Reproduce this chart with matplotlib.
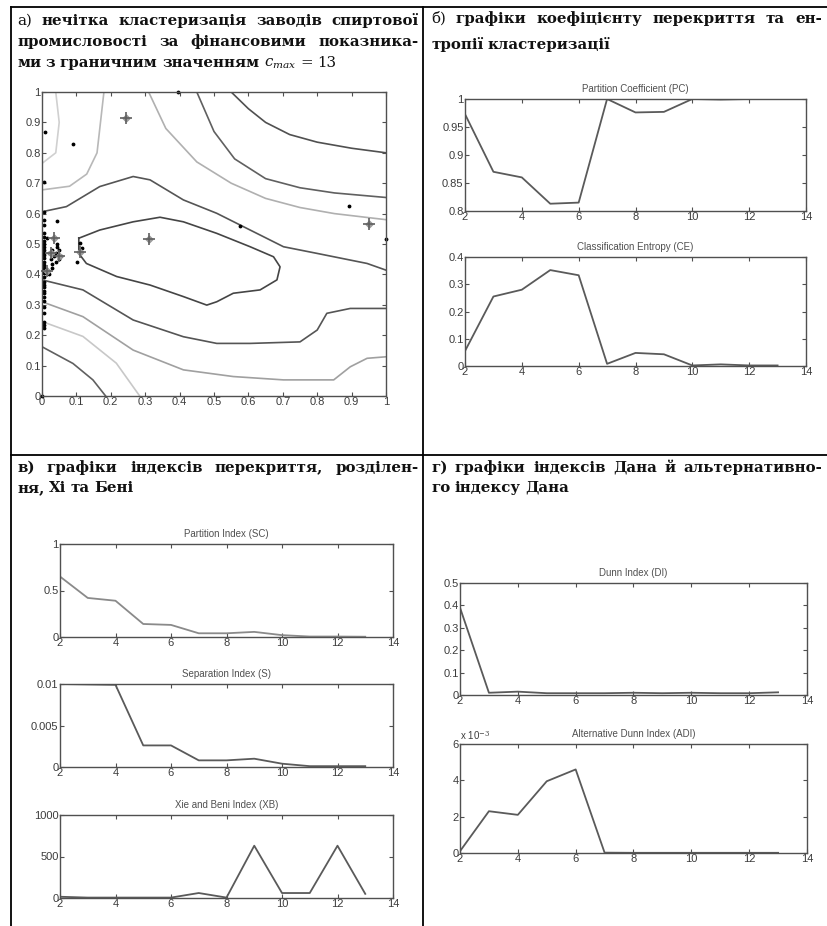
import matplotlib
matplotlib.use("Agg")
import matplotlib.pyplot as plt
from matplotlib import font_manager
from matplotlib.lines import Line2D

plt.rcParams["mathtext.fontset"] = "dejavuserif"

# ---------------- data ----------------
clusters = [2, 3, 4, 5, 6, 7, 8, 9, 10, 11, 12, 13]
pc = [0.973, 0.870, 0.860, 0.813, 0.815, 1.0, 0.976, 0.977, 1.0, 0.999, 1.0, 1.0]
ce = [0.055, 0.255, 0.280, 0.352, 0.333, 0.008, 0.048, 0.043, 0.002, 0.006, 0.002, 0.002]
sc = [0.65, 0.42, 0.39, 0.14, 0.13, 0.04, 0.04, 0.055, 0.02, 0.005, 0.005, 0.003]
sep = [0.0100, 0.00995, 0.0099, 0.0026, 0.0026, 0.0008, 0.0008, 0.001, 0.0004, 0.0001, 0.0001, 0.0001]
xb = [15, 5, 5, 5, 5, 60, 5, 630, 60, 60, 630, 50]
di = [0.39, 0.010, 0.015, 0.008, 0.008, 0.008, 0.010, 0.008, 0.010, 0.008, 0.008, 0.012]
adi = [0.1, 2.3, 2.1, 3.95, 4.6, 0.02, 0.01, 0.01, 0.01, 0.01, 0.01, 0.01]  # x 10^-3

# panel a: enterprises (normalised financial indicators)
pts_x = [0.005] * 29 + [0.02, 0.025, 0.03, 0.035, 0.04, 0.045, 0.05, 0.055, 0.04, 0.03,
                        0.045, 0.015, 0.02, 0.03, 0.05, 0.045,
                        0.008, 0.005, 0.09, 0.396, 0.576, 0.893, 1.0, 0.103, 0.11, 0.115, 0.0]
pts_y = [0.606, 0.579, 0.562, 0.535, 0.522, 0.511, 0.50, 0.489, 0.48, 0.471, 0.463,
         0.453, 0.442, 0.431, 0.42, 0.406, 0.393, 0.376, 0.365, 0.357, 0.346, 0.338,
         0.327, 0.314, 0.294, 0.272, 0.245, 0.234, 0.223] + \
        [0.47, 0.45, 0.48, 0.46, 0.47, 0.49, 0.45, 0.46, 0.44, 0.435,
         0.50, 0.52, 0.40, 0.42, 0.48, 0.577,
         0.87, 0.705, 0.829, 1.0, 0.56, 0.626, 0.515, 0.44, 0.504, 0.486, 0.0]
cent_x = [0.245, 0.31, 0.95, 0.035, 0.11, 0.05, 0.015, 0.025]
cent_y = [0.915, 0.515, 0.565, 0.52, 0.475, 0.46, 0.41, 0.47]

# contour lines traced from the membership surface: (x list, y list, grey level)
contours = [
    ([0.55, 0.60, 0.65, 0.72, 0.80, 0.90, 1.0],
     [1.0, 0.945, 0.90, 0.86, 0.835, 0.815, 0.80], "#505050"),
    ([0.45, 0.50, 0.56, 0.65, 0.75, 0.85, 1.0],
     [1.0, 0.87, 0.78, 0.715, 0.685, 0.668, 0.653], "#606060"),
    ([0.31, 0.36, 0.45, 0.55, 0.65, 0.75, 0.85, 1.0],
     [1.0, 0.88, 0.77, 0.70, 0.65, 0.62, 0.60, 0.58], "#b0b0b0"),
    ([0.0, 0.071, 0.168, 0.265, 0.314, 0.411, 0.508, 0.605, 0.702, 0.80, 0.945, 1.0],
     [0.606, 0.623, 0.689, 0.722, 0.711, 0.645, 0.601, 0.546, 0.491, 0.469, 0.436, 0.414], "#555555"),
    ([0.107, 0.168, 0.265, 0.343, 0.411, 0.508, 0.605, 0.673, 0.692, 0.683, 0.634, 0.556,
      0.508, 0.479, 0.411, 0.314, 0.217, 0.129, 0.107, 0.107],
     [0.519, 0.546, 0.573, 0.588, 0.573, 0.535, 0.491, 0.458, 0.425, 0.382, 0.349, 0.338,
      0.310, 0.299, 0.327, 0.365, 0.393, 0.436, 0.469, 0.519], "#454545"),
    ([0.0, 0.119, 0.265, 0.411, 0.508, 0.605, 0.75, 0.80, 0.828, 0.896, 1.0],
     [0.382, 0.349, 0.25, 0.195, 0.173, 0.173, 0.178, 0.217, 0.272, 0.288, 0.288], "#555555"),
    ([0.0, 0.119, 0.265, 0.411, 0.556, 0.702, 0.848, 0.896, 0.945, 1.0],
     [0.31, 0.261, 0.151, 0.086, 0.064, 0.053, 0.053, 0.096, 0.124, 0.129], "#a0a0a0"),
    ([0.0, 0.119, 0.216, 0.284], [0.245, 0.196, 0.108, 0.0], "#c8c8c8"),
    ([0.0, 0.09, 0.148, 0.185], [0.162, 0.107, 0.053, 0.0], "#606060"),
    ([0.0, 0.08, 0.13, 0.16, 0.17, 0.18], [0.678, 0.69, 0.73, 0.80, 0.90, 1.0], "#b8b8b8"),
    ([0.0, 0.04, 0.05, 0.04], [0.765, 0.80, 0.90, 1.0], "#d0d0d0"),
]

# ---------------- helpers ----------------
W, H = 827, 926


def pick(*names):
    for n in names:
        try:
            font_manager.findfont(n, fallback_to_default=False)
            return n
        except Exception:
            pass
    return "DejaVu Sans"


SANS = pick("Liberation Sans Narrow", "Liberation Sans")
SERIF = pick("DejaVu Serif Condensed", "DejaVu Serif")
GREY = "#3c3c3c"


def box(x0, y0, x1, y1):
    # pixel box (top-left origin) -> figure fraction rect
    return [x0 / W, 1 - y1 / H, (x1 - x0) / W, (y1 - y0) / H]


def style(ax, xlim, ylim, xt, yt, xl, yl, title=None):
    ax.set_xlim(*xlim); ax.set_ylim(*ylim)
    ax.set_xticks(xt); ax.set_yticks(yt)
    ax.set_xticklabels(xl, family=SANS, fontsize=8, color=GREY)
    ax.set_yticklabels(yl, family=SANS, fontsize=8, color=GREY)
    ax.tick_params(direction="in", top=True, right=True, length=3, width=0.8,
                   color="#505050", pad=1)
    for s in ax.spines.values():
        s.set_color("#505050"); s.set_linewidth(1.0)
    if title:
        ax.set_title(title, family=SANS, fontsize=7, color="#505050", pad=5)


fig = plt.figure(figsize=(W / 100, H / 100), dpi=100)
fig.patch.set_facecolor("white")

# table grid
for (x0, y0, x1, y1) in [(11, 7, 827, 7), (11, 455, 827, 455), (11, 7, 11, 926), (423, 7, 423, 926)]:
    fig.add_artist(Line2D([x0 / W, x1 / W], [1 - y0 / H, 1 - y1 / H], color="black", lw=1.3))

# ---------------- panel a ----------------
ax = fig.add_axes(box(42, 92, 386, 396))
for cx, cy, col in contours:
    ax.plot(cx, cy, color=col, lw=1.2)
ax.plot(pts_x, pts_y, ".", color="black", ms=3.5, clip_on=False)
ax.plot(cent_x, cent_y, "D", color="#9a9a9a", ms=3.5, clip_on=False)
ax.plot(cent_x, cent_y, "+", color="#606060", ms=8, mew=1.2, clip_on=False)
ticks = [i / 10 for i in range(11)]
labs = ["0", "0.1", "0.2", "0.3", "0.4", "0.5", "0.6", "0.7", "0.8", "0.9", "1"]
style(ax, (0, 1), (0, 1), ticks, ticks, labs, labs)

# ---------------- panel b ----------------
xt = [2, 4, 6, 8, 10, 12, 14]
xl = [str(v) for v in xt]
line_kw = dict(color="#5a5a5a", lw=1.3)

ax = fig.add_axes(box(465, 99, 806, 211))
ax.plot(clusters, pc, **line_kw)
style(ax, (2, 14), (0.8, 1), xt, [0.8, 0.85, 0.9, 0.95, 1], xl,
      ["0.8", "0.85", "0.9", "0.95", "1"], "Partition Coefficient (PC)")

ax = fig.add_axes(box(465, 257, 806, 366))
ax.plot(clusters, ce, **line_kw)
style(ax, (2, 14), (0, 0.4), xt, [0, 0.1, 0.2, 0.3, 0.4], xl,
      ["0", "0.1", "0.2", "0.3", "0.4"], "Classification Entropy (CE)")

# ---------------- panel c ----------------
ax = fig.add_axes(box(60, 544, 393, 637))
ax.plot(clusters, sc, color="#8a8a8a", lw=1.3)
style(ax, (2, 14), (0, 1), xt, [0, 0.5, 1], xl, ["0", "0.5", "1"], "Partition Index (SC)")

ax = fig.add_axes(box(60, 684, 393, 767))
ax.plot(clusters, sep, **line_kw)
style(ax, (2, 14), (0, 0.01), xt, [0, 0.005, 0.01], xl, ["0", "0.005", "0.01"],
      "Separation Index (S)")

ax = fig.add_axes(box(60, 815, 393, 898))
ax.plot(clusters, xb, **line_kw)
style(ax, (2, 14), (0, 1000), xt, [0, 500, 1000], xl, ["0", "500", "1000"],
      "Xie and Beni Index (XB)")

# ---------------- panel d ----------------
ax = fig.add_axes(box(460, 583, 807, 695))
ax.plot(clusters, di, **line_kw)
style(ax, (2, 14), (0, 0.5), xt, [0, 0.1, 0.2, 0.3, 0.4, 0.5], xl,
      ["0", "0.1", "0.2", "0.3", "0.4", "0.5"], "Dunn Index (DI)")

ax = fig.add_axes(box(460, 744, 807, 853))
ax.plot(clusters, adi, **line_kw)
style(ax, (2, 14), (0, 6), xt, [0, 2, 4, 6], xl, ["0", "2", "4", "6"],
      "Alternative Dunn Index (ADI)")
ax.text(0.0, 1.02, r"x 10$^{-3}$", transform=ax.transAxes, family=SANS,
        fontsize=7, color=GREY, ha="left", va="bottom")

# ---------------- headers (justified like the source table) ----------------
renderer = fig.canvas.get_renderer()

# size the serif so the first line of panel a nearly fills its cell
probe = fig.text(0, 0, "а) нечітка кластеризація заводів спиртової", fontsize=10,
                 family=SERIF, weight="bold")
FS = min(11.0, 10 * 385 / probe.get_window_extent(renderer).width)
probe.remove()


def put_line(tokens, x0, x1, yb, justify=True):
    arts = []
    for s, w in tokens:
        t = fig.text(0, 1 - yb / H, s, fontsize=FS, family=SERIF, weight=w,
                     va="baseline", ha="left", color="#111111")
        arts.append(t)
    widths = [a.get_window_extent(renderer).width for a in arts]
    if justify and len(arts) > 1:
        gap = (x1 - x0 - sum(widths)) / (len(arts) - 1)
    else:
        gap = FS * 0.3 * 100 / 72
    x = x0
    for a, wd in zip(arts, widths):
        a.set_x(x / W)
        x += wd + gap


def words(s, first_normal=False):
    out = [(w, "bold") for w in s.split()]
    if first_normal:
        out[0] = (out[0][0], "normal")
    return out


put_line(words("а) нечітка кластеризація заводів спиртової", True), 17, 419, 25)
put_line(words("промисловості за фінансовими показника-"), 17, 419, 46)
put_line(words("ми з граничним значенням") + [(r"$c_{max}$", "normal"), ("=", "normal"), ("13", "normal")],
         17, 419, 67, justify=False)

put_line(words("б) графіки коефіцієнту перекриття та ен-", True), 431, 822, 23)
put_line(words("тропії кластеризації"), 431, 822, 49, justify=False)

put_line(words("в) графіки індексів перекриття, розділен-"), 17, 419, 472)
put_line(words("ня, Хі та Бені"), 17, 419, 492, justify=False)

put_line(words("г) графіки індексів Дана й альтернативно-"), 431, 822, 472)
put_line(words("го індексу Дана"), 431, 822, 492, justify=False)

fig.savefig("out.png", dpi=100, facecolor="white")
